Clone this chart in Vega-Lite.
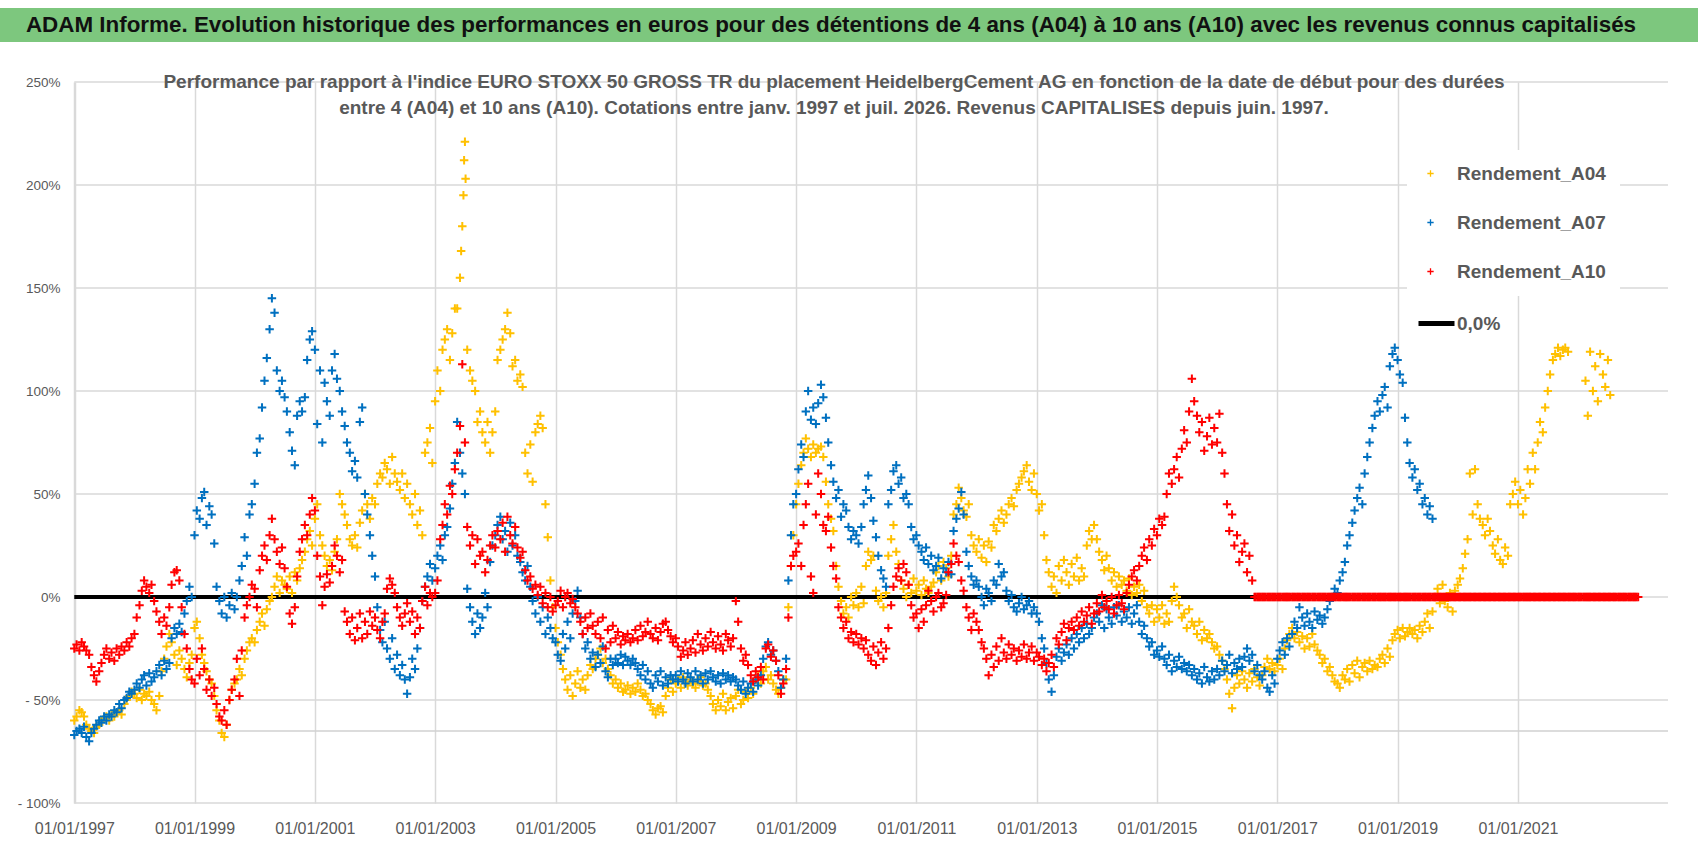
{
"$schema":"https://vega.github.io/schema/vega-lite/v6.json",
"background":"white",
"padding":{"left":0,"top":8,"right":0,"bottom":0},
"spacing":31,
"config":{"view":{"stroke":null}},
"vconcat":[
{"width":1698,"height":34,"view":{"fill":"#7dc77e","stroke":null},
 "data":{"values":[{"t":"ADAM Informe. Evolution historique des performances en euros pour des détentions de 4 ans (A04) à 10 ans (A10) avec les revenus connus capitalisés"}]},
 "mark":{"type":"text","font":"Liberation Sans, Arial, sans-serif","fontSize":22.4,"fontWeight":"bold","color":"#111111","dx":-18,"baseline":"middle"},
 "encoding":{"text":{"field":"t"}}},
{"width":1668,"height":721,
 "title":{"text":["Performance par rapport à l'indice EURO STOXX 50 GROSS TR  du placement HeidelbergCement AG en fonction de la date de début pour des durées","entre 4 (A04) et 10 ans (A10).  Cotations entre janv. 1997 et juil. 2026. Revenus CAPITALISES depuis juin. 1997."],"font":"Liberation Sans, Arial, sans-serif","fontSize":19,"fontWeight":"bold","color":"#595959","offset":-43,"lineHeight":26,"anchor":"middle"},
 "layer":[
 {"data":{"values":[{"g":-100},{"g":-50},{"g":0},{"g":50},{"g":100},{"g":150},{"g":200},{"g":250}]},"mark":{"type":"rule","stroke":"#d9d9d9","strokeWidth":1.5},
  "encoding":{"y":{"field":"g","type":"quantitative"},
   "x":{"datum":{"year":1997,"month":1,"date":1,"utc":true},"type":"temporal"},
   "x2":{"datum":{"year":2023,"month":7,"date":1,"utc":true}}}},
 {"data":{"values":[{}]},"mark":{"type":"rule","stroke":"#d0d0d0","strokeWidth":1.5},
  "encoding":{"y":{"datum":-65,"type":"quantitative"},
   "x":{"datum":{"year":1997,"month":1,"date":1,"utc":true},"type":"temporal"},
   "x2":{"datum":{"year":2023,"month":7,"date":1,"utc":true}}}},
 {"data":{"values":[{}]},"mark":{"type":"rule","strokeWidth":4},
  "encoding":{"y":{"datum":0,"type":"quantitative"},
   "x":{"datum":{"year":1997,"month":1,"date":1,"utc":true},"type":"temporal"},
   "x2":{"datum":{"year":2023,"month":1,"date":1,"utc":true}},
   "stroke":{"datum":"0,0%","type":"nominal","scale":{"range":["#000000"]},
     "legend":{"orient":"none","legendX":1402,"legendY":281,"title":null,"symbolType":"stroke","symbolSize":1296,"symbolStrokeWidth":5,"labelFont":"Liberation Sans, Arial, sans-serif","labelFontSize":19,"labelFontWeight":"bold","labelColor":"#595959","labelOffset":0,"labelLimit":300,"padding":14,"fillColor":"white"}}}},
 {"data":{"values":[
{"d":"1997-01-01","a":-60,"b":-67,"c":-25},{"d":"1997-01-15","a":-58,"b":-65,"c":-23},{"d":"1997-02-01","a":-55,"b":-64,"c":-26},{"d":"1997-02-15","a":-56,"b":-66,"c":-22},{"d":"1997-03-01","a":-58,"b":-63,"c":-24},{"d":"1997-03-15","a":-62,"b":-68,"c":-26},{"d":"1997-04-01","a":-64,"b":-70,"c":-28},{"d":"1997-04-15","a":-65,"b":-66,"c":-34},{"d":"1997-05-01","a":-66,"b":-64,"c":-38},{"d":"1997-05-15","a":-63,"b":-62,"c":-41},{"d":"1997-06-01","a":-62,"b":-60,"c":-36},{"d":"1997-06-15","a":-60,"b":-61,"c":-32},{"d":"1997-07-01","a":-59,"b":-58,"c":-28},{"d":"1997-07-15","a":-58,"b":-60,"c":-25},{"d":"1997-08-01","a":-60,"b":-57,"c":-30},{"d":"1997-08-15","a":-57,"b":-58,"c":-27},{"d":"1997-09-01","a":-58,"b":-55,"c":-31},{"d":"1997-09-15","a":-56,"b":-56,"c":-25},{"d":"1997-10-01","a":-55,"b":-52,"c":-28},{"d":"1997-10-15","a":-57,"b":-54,"c":-24},{"d":"1997-11-01","a":-52,"b":-50,"c":-26},{"d":"1997-11-15","a":-50,"b":-49,"c":-22},{"d":"1997-12-01","a":-48,"b":-46,"c":-24},{"d":"1997-12-15","a":-46,"b":-47,"c":-20},
{"d":"1998-01-01","a":-47,"b":-45,"c":-18},{"d":"1998-01-15","a":-49,"b":-42,"c":-10},{"d":"1998-02-01","a":-45,"b":-44,"c":-4},{"d":"1998-02-15","a":-50,"b":-40,"c":3},{"d":"1998-03-01","a":-47,"b":-38,"c":8},{"d":"1998-03-15","a":-48,"b":-43,"c":5},{"d":"1998-04-01","a":-46,"b":-37,"c":2},{"d":"1998-04-15","a":-50,"b":-41,"c":6},{"d":"1998-05-01","a":-52,"b":-39,"c":-2},{"d":"1998-05-15","a":-55,"b":-36,"c":-7},{"d":"1998-06-01","a":-48,"b":-33,"c":-12},{"d":"1998-06-15","a":-36,"b":-38,"c":-18},{"d":"1998-07-01","a":-30,"b":-31,"c":-10},{"d":"1998-07-15","a":-24,"b":-35,"c":-14},{"d":"1998-08-01","a":-18,"b":-32,"c":-5},{"d":"1998-08-15","a":-22,"b":-20,"c":6},{"d":"1998-09-01","a":-28,"b":-15,"c":12},{"d":"1998-09-15","a":-33,"b":-18,"c":13},{"d":"1998-10-01","a":-26,"b":-13,"c":8},{"d":"1998-10-15","a":-30,"b":-17,"c":-5},{"d":"1998-11-01","a":-35,"b":-8,"c":-18},{"d":"1998-11-15","a":-39,"b":-2,"c":-25},{"d":"1998-12-01","a":-32,"b":5,"c":-35},{"d":"1998-12-15","a":-28,"b":0,"c":-40},
{"d":"1999-01-01","a":-15,"b":30,"c":-42},{"d":"1999-01-15","a":-12,"b":42,"c":-30},{"d":"1999-02-01","a":-20,"b":38,"c":-38},{"d":"1999-02-15","a":-28,"b":48,"c":-25},{"d":"1999-03-01","a":-32,"b":51,"c":-35},{"d":"1999-03-15","a":-36,"b":35,"c":-45},{"d":"1999-04-01","a":-40,"b":44,"c":-40},{"d":"1999-04-15","a":-42,"b":40,"c":-48},{"d":"1999-05-01","a":-48,"b":26,"c":-44},{"d":"1999-05-15","a":-55,"b":5,"c":-52},{"d":"1999-06-01","a":-60,"b":-2,"c":-58},{"d":"1999-06-15","a":-66,"b":-8,"c":-60},{"d":"1999-07-01","a":-68,"b":0,"c":-55},{"d":"1999-07-15","a":-62,"b":-10,"c":-62},{"d":"1999-08-01","a":-50,"b":-4,"c":-50},{"d":"1999-08-15","a":-45,"b":2,"c":-45},{"d":"1999-09-01","a":-42,"b":-6,"c":-40},{"d":"1999-09-15","a":-40,"b":0,"c":-30},{"d":"1999-10-01","a":-35,"b":8,"c":-48},{"d":"1999-10-15","a":-38,"b":15,"c":-26},{"d":"1999-11-01","a":-30,"b":29,"c":-10},{"d":"1999-11-15","a":-26,"b":20,"c":-4},{"d":"1999-12-01","a":-22,"b":40,"c":0},{"d":"1999-12-15","a":-20,"b":45,"c":6},
{"d":"2000-01-01","a":-22,"b":55,"c":4},{"d":"2000-01-15","a":-16,"b":70,"c":-5},{"d":"2000-02-01","a":-12,"b":77,"c":13},{"d":"2000-02-15","a":-8,"b":92,"c":20},{"d":"2000-03-01","a":-14,"b":105,"c":25},{"d":"2000-03-15","a":-6,"b":116,"c":18},{"d":"2000-04-01","a":-2,"b":130,"c":30},{"d":"2000-04-15","a":0,"b":145,"c":38},{"d":"2000-05-01","a":5,"b":138,"c":28},{"d":"2000-05-15","a":10,"b":110,"c":22},{"d":"2000-06-01","a":2,"b":100,"c":16},{"d":"2000-06-15","a":8,"b":105,"c":24},{"d":"2000-07-01","a":6,"b":97,"c":14},{"d":"2000-07-15","a":4,"b":90,"c":5},{"d":"2000-08-01","a":10,"b":80,"c":-8},{"d":"2000-08-15","a":2,"b":71,"c":-13},{"d":"2000-09-01","a":12,"b":64,"c":-5},{"d":"2000-09-15","a":8,"b":88,"c":10},{"d":"2000-10-01","a":14,"b":95,"c":22},{"d":"2000-10-15","a":18,"b":90,"c":28},{"d":"2000-11-01","a":22,"b":97,"c":35},{"d":"2000-11-15","a":28,"b":115,"c":30},{"d":"2000-12-01","a":32,"b":125,"c":40},{"d":"2000-12-15","a":25,"b":129,"c":48},
{"d":"2001-01-01","a":38,"b":120,"c":42},{"d":"2001-01-15","a":45,"b":84,"c":20},{"d":"2001-02-01","a":30,"b":110,"c":10},{"d":"2001-02-15","a":25,"b":75,"c":-4},{"d":"2001-03-01","a":20,"b":104,"c":5},{"d":"2001-03-15","a":15,"b":95,"c":11},{"d":"2001-04-01","a":18,"b":88,"c":7},{"d":"2001-04-15","a":13,"b":110,"c":15},{"d":"2001-05-01","a":22,"b":118,"c":25},{"d":"2001-05-15","a":28,"b":106,"c":20},{"d":"2001-06-01","a":50,"b":100,"c":12},{"d":"2001-06-15","a":45,"b":90,"c":18},{"d":"2001-07-01","a":40,"b":83,"c":-7},{"d":"2001-07-15","a":35,"b":75,"c":-12},{"d":"2001-08-01","a":28,"b":70,"c":-18},{"d":"2001-08-15","a":25,"b":61,"c":-10},{"d":"2001-09-01","a":30,"b":66,"c":-21},{"d":"2001-09-15","a":24,"b":58,"c":-15},{"d":"2001-10-01","a":36,"b":85,"c":-8},{"d":"2001-10-15","a":42,"b":92,"c":-20},{"d":"2001-11-01","a":50,"b":50,"c":-12},{"d":"2001-11-15","a":45,"b":40,"c":-18},{"d":"2001-12-01","a":38,"b":30,"c":-7},{"d":"2001-12-15","a":48,"b":20,"c":-14},
{"d":"2002-01-01","a":45,"b":10,"c":-10},{"d":"2002-01-15","a":55,"b":-5,"c":-16},{"d":"2002-02-01","a":60,"b":-16,"c":-20},{"d":"2002-02-15","a":58,"b":-22,"c":-12},{"d":"2002-03-01","a":65,"b":-12,"c":-8},{"d":"2002-03-15","a":62,"b":-25,"c":4},{"d":"2002-04-01","a":55,"b":-30,"c":9},{"d":"2002-04-15","a":68,"b":-20,"c":6},{"d":"2002-05-01","a":60,"b":-35,"c":2},{"d":"2002-05-15","a":56,"b":-28,"c":-5},{"d":"2002-06-01","a":52,"b":-38,"c":-10},{"d":"2002-06-15","a":60,"b":-33,"c":-14},{"d":"2002-07-01","a":48,"b":-40,"c":-8},{"d":"2002-07-15","a":55,"b":-47,"c":-3},{"d":"2002-08-01","a":45,"b":-39,"c":-12},{"d":"2002-08-15","a":40,"b":-30,"c":-7},{"d":"2002-09-01","a":50,"b":-35,"c":-18},{"d":"2002-09-15","a":35,"b":-25,"c":-10},{"d":"2002-10-01","a":42,"b":-15,"c":-15},{"d":"2002-10-15","a":30,"b":-2,"c":-2},{"d":"2002-11-01","a":70,"b":5,"c":5},{"d":"2002-11-15","a":75,"b":10,"c":-4},{"d":"2002-12-01","a":82,"b":16,"c":2},{"d":"2002-12-15","a":65,"b":8,"c":0},
{"d":"2003-01-01","a":95,"b":14,"c":2},{"d":"2003-01-15","a":110,"b":20,"c":8},{"d":"2003-02-01","a":100,"b":25,"c":28},{"d":"2003-02-15","a":120,"b":18,"c":35},{"d":"2003-03-01","a":125,"b":30,"c":45},{"d":"2003-03-15","a":130,"b":34,"c":40},{"d":"2003-04-01","a":115,"b":43,"c":54},{"d":"2003-04-15","a":128,"b":55,"c":50},{"d":"2003-05-01","a":140,"b":65,"c":62},{"d":"2003-05-15","a":140,"b":85,"c":70},{"d":"2003-06-01","a":155,"b":70,"c":83},{"d":"2003-06-08","a":168},{"d":"2003-06-15","a":180,"b":60,"c":113},{"d":"2003-06-22","a":195},{"d":"2003-06-26","a":212},{"d":"2003-07-01","a":221,"b":50,"c":75},{"d":"2003-07-05","a":203},{"d":"2003-07-15","a":120,"b":4,"c":34},{"d":"2003-08-01","a":110,"b":-5,"c":25},{"d":"2003-08-15","a":105,"b":-12,"c":30},{"d":"2003-09-01","a":100,"b":-18,"c":16},{"d":"2003-09-15","a":85,"b":-8,"c":28},{"d":"2003-10-01","a":90,"b":-15,"c":20},{"d":"2003-10-15","a":80,"b":-10,"c":22},{"d":"2003-11-01","a":75,"b":2,"c":12},{"d":"2003-11-15","a":85,"b":-5,"c":18},{"d":"2003-12-01","a":70,"b":17,"c":25},{"d":"2003-12-15","a":80,"b":25,"c":30},
{"d":"2004-01-01","a":90,"b":30,"c":24},{"d":"2004-01-15","a":115,"b":35,"c":32},{"d":"2004-02-01","a":120,"b":39,"c":28},{"d":"2004-02-15","a":125,"b":28,"c":36},{"d":"2004-03-01","a":130,"b":32,"c":22},{"d":"2004-03-15","a":138,"b":22,"c":39},{"d":"2004-04-01","a":128,"b":36,"c":30},{"d":"2004-04-15","a":112,"b":25,"c":26},{"d":"2004-05-01","a":115,"b":30,"c":34},{"d":"2004-05-15","a":105,"b":20,"c":24},{"d":"2004-06-01","a":108,"b":17,"c":19},{"d":"2004-06-15","a":102,"b":12,"c":22},{"d":"2004-07-01","a":70,"b":8,"c":13},{"d":"2004-07-15","a":60,"b":15,"c":8},{"d":"2004-08-01","a":74,"b":5,"c":10},{"d":"2004-08-15","a":56,"b":-2,"c":4},{"d":"2004-09-01","a":80,"b":-8,"c":6},{"d":"2004-09-15","a":84,"b":0,"c":1},{"d":"2004-10-01","a":88,"b":-12,"c":5},{"d":"2004-10-15","a":82,"b":-5,"c":-3},{"d":"2004-11-01","a":45,"b":-18,"c":2},{"d":"2004-11-15","a":29,"b":-10,"c":-5},{"d":"2004-12-01","a":8,"b":-15,"c":0},{"d":"2004-12-15","a":-5,"b":-20,"c":-7},
{"d":"2005-01-01","a":-15,"b":-22,"c":-4},{"d":"2005-01-15","a":-22,"b":-28,"c":-2},{"d":"2005-02-01","a":-28,"b":-31,"c":3},{"d":"2005-02-15","a":-35,"b":-18,"c":-5},{"d":"2005-03-01","a":-40,"b":-25,"c":0},{"d":"2005-03-15","a":-45,"b":-12,"c":2},{"d":"2005-04-01","a":-38,"b":-20,"c":-3},{"d":"2005-04-15","a":-48,"b":-8,"c":-1},{"d":"2005-05-01","a":-42,"b":-2,"c":-5},{"d":"2005-05-15","a":-36,"b":3,"c":-8},{"d":"2005-06-01","a":-44,"b":-10,"c":-12},{"d":"2005-06-15","a":-40,"b":-18,"c":-18},{"d":"2005-07-01","a":-45,"b":-25,"c":-10},{"d":"2005-07-15","a":-38,"b":-22,"c":-15},{"d":"2005-08-01","a":-33,"b":-30,"c":-8},{"d":"2005-08-15","a":-35,"b":-27,"c":-14},{"d":"2005-09-01","a":-30,"b":-34,"c":-18},{"d":"2005-09-15","a":-28,"b":-28,"c":-12},{"d":"2005-10-01","a":-25,"b":-32,"c":-20},{"d":"2005-10-15","a":-32,"b":-24,"c":-10},{"d":"2005-11-01","a":-30,"b":-36,"c":-25},{"d":"2005-11-15","a":-35,"b":-39,"c":-16},{"d":"2005-12-01","a":-38,"b":-30,"c":-22},{"d":"2005-12-15","a":-42,"b":-33,"c":-14},
{"d":"2006-01-01","a":-40,"b":-30,"c":-20},{"d":"2006-01-15","a":-44,"b":-32,"c":-17},{"d":"2006-02-01","a":-42,"b":-28,"c":-23},{"d":"2006-02-15","a":-46,"b":-33,"c":-19},{"d":"2006-03-01","a":-45,"b":-29,"c":-21},{"d":"2006-03-15","a":-43,"b":-31,"c":-18},{"d":"2006-04-01","a":-47,"b":-33,"c":-22},{"d":"2006-04-15","a":-44,"b":-30,"c":-20},{"d":"2006-05-01","a":-46,"b":-32,"c":-16},{"d":"2006-05-15","a":-42,"b":-35,"c":-21},{"d":"2006-06-01","a":-45,"b":-38,"c":-14},{"d":"2006-06-15","a":-48,"b":-33,"c":-19},{"d":"2006-07-01","a":-47,"b":-40,"c":-17},{"d":"2006-07-15","a":-50,"b":-36,"c":-12},{"d":"2006-08-01","a":-52,"b":-42,"c":-18},{"d":"2006-08-15","a":-55,"b":-44,"c":-20},{"d":"2006-09-01","a":-57,"b":-38,"c":-15},{"d":"2006-09-15","a":-54,"b":-41,"c":-21},{"d":"2006-10-01","a":-53,"b":-36,"c":-17},{"d":"2006-10-15","a":-56,"b":-43,"c":-13},{"d":"2006-11-01","a":-48,"b":-39,"c":-12},{"d":"2006-11-15","a":-44,"b":-42,"c":-16},{"d":"2006-12-01","a":-40,"b":-38,"c":-19},{"d":"2006-12-15","a":-46,"b":-40,"c":-22},
{"d":"2007-01-01","a":-42,"b":-38,"c":-20},{"d":"2007-01-15","a":-40,"b":-41,"c":-24},{"d":"2007-02-01","a":-44,"b":-36,"c":-29},{"d":"2007-02-15","a":-39,"b":-40,"c":-26},{"d":"2007-03-01","a":-41,"b":-42,"c":-22},{"d":"2007-03-15","a":-43,"b":-37,"c":-28},{"d":"2007-04-01","a":-40,"b":-39,"c":-25},{"d":"2007-04-15","a":-42,"b":-41,"c":-21},{"d":"2007-05-01","a":-44,"b":-36,"c":-27},{"d":"2007-05-15","a":-41,"b":-40,"c":-18},{"d":"2007-06-01","a":-39,"b":-38,"c":-23},{"d":"2007-06-15","a":-43,"b":-42,"c":-26},{"d":"2007-07-01","a":-42,"b":-37,"c":-20},{"d":"2007-07-15","a":-45,"b":-40,"c":-24},{"d":"2007-08-01","a":-48,"b":-36,"c":-17},{"d":"2007-08-15","a":-52,"b":-39,"c":-22},{"d":"2007-09-01","a":-55,"b":-41,"c":-25},{"d":"2007-09-15","a":-50,"b":-38,"c":-19},{"d":"2007-10-01","a":-53,"b":-42,"c":-23},{"d":"2007-10-15","a":-47,"b":-37,"c":-26},{"d":"2007-11-01","a":-55,"b":-40,"c":-18},{"d":"2007-11-15","a":-51,"b":-38,"c":-21},{"d":"2007-12-01","a":-49,"b":-41,"c":-24},{"d":"2007-12-15","a":-54,"b":-39,"c":-20},
{"d":"2008-01-01","a":-48,"b":-40,"c":-2},{"d":"2008-01-15","a":-45,"b":-43,"c":-12},{"d":"2008-02-01","a":-52,"b":-45,"c":-25},{"d":"2008-02-15","a":-50,"b":-41,"c":-31},{"d":"2008-03-01","a":-46,"b":-47,"c":-28},{"d":"2008-03-15","a":-49,"b":-44,"c":-33},{"d":"2008-04-01","a":-44,"b":-42,"c":-38},{"d":"2008-04-15","a":-47,"b":-46,"c":-41},{"d":"2008-05-01","a":-40,"b":-40,"c":-36},{"d":"2008-05-15","a":-38,"b":-43,"c":-39},{"d":"2008-06-01","a":-42,"b":-38,"c":-34},{"d":"2008-06-15","a":-36,"b":-30,"c":-40},{"d":"2008-07-01","a":-34,"b":-24,"c":-25},{"d":"2008-07-15","a":-40,"b":-22,"c":-23},{"d":"2008-08-01","a":-38,"b":-28,"c":-29},{"d":"2008-08-15","a":-42,"b":-26,"c":-26},{"d":"2008-09-01","a":-45,"b":-31,"c":-31},{"d":"2008-09-15","a":-47,"b":-36,"c":-38},{"d":"2008-10-01","a":-44,"b":-44,"c":-47},{"d":"2008-10-15","a":-40,"b":-40,"c":-42},{"d":"2008-11-01","a":-40,"b":-30,"c":-35},{"d":"2008-11-15","a":-5,"b":8,"c":-10},{"d":"2008-12-01","a":15,"b":30,"c":15},{"d":"2008-12-15","a":30,"b":45,"c":20},
{"d":"2009-01-01","a":45,"b":50,"c":22},{"d":"2009-01-15","a":55,"b":62,"c":26},{"d":"2009-02-01","a":64,"b":74,"c":15},{"d":"2009-02-15","a":70,"b":68,"c":35},{"d":"2009-03-01","a":77,"b":90,"c":45},{"d":"2009-03-15","a":72,"b":100,"c":55},{"d":"2009-04-01","a":68,"b":86,"c":10},{"d":"2009-04-15","a":74,"b":92,"c":2},{"d":"2009-05-01","a":70,"b":84,"c":40},{"d":"2009-05-15","a":72,"b":94,"c":60},{"d":"2009-06-01","a":73,"b":103,"c":50},{"d":"2009-06-15","a":68,"b":97,"c":35},{"d":"2009-07-01","a":56,"b":87,"c":32},{"d":"2009-07-15","a":45,"b":75,"c":39},{"d":"2009-08-01","a":38,"b":64,"c":24},{"d":"2009-08-15","a":32,"b":56,"c":15},{"d":"2009-09-01","a":15,"b":48,"c":9},{"d":"2009-09-15","a":5,"b":52,"c":-5},{"d":"2009-10-01","a":-2,"b":39,"c":-10},{"d":"2009-10-15","a":-8,"b":45,"c":-15},{"d":"2009-11-01","a":-5,"b":42,"c":-12},{"d":"2009-11-15","a":-10,"b":34,"c":-20},{"d":"2009-12-01","a":0,"b":28,"c":-17},{"d":"2009-12-15","a":-4,"b":32,"c":-22},
{"d":"2010-01-01","a":2,"b":30,"c":-18},{"d":"2010-01-15","a":-5,"b":26,"c":-23},{"d":"2010-02-01","a":5,"b":34,"c":-20},{"d":"2010-02-15","a":-3,"b":45,"c":-25},{"d":"2010-03-01","a":15,"b":52,"c":-21},{"d":"2010-03-15","a":22,"b":59,"c":-28},{"d":"2010-04-01","a":18,"b":48,"c":-31},{"d":"2010-04-15","a":20,"b":37,"c":-24},{"d":"2010-05-01","a":3,"b":29,"c":-33},{"d":"2010-05-15","a":-2,"b":20,"c":-27},{"d":"2010-06-01","a":0,"b":13,"c":-22},{"d":"2010-06-15","a":-5,"b":9,"c":-30},{"d":"2010-07-01","a":2,"b":5,"c":-25},{"d":"2010-07-15","a":20,"b":45,"c":-15},{"d":"2010-08-01","a":28,"b":52,"c":-4},{"d":"2010-08-15","a":35,"b":61,"c":5},{"d":"2010-09-01","a":22,"b":64,"c":10},{"d":"2010-09-15","a":16,"b":55,"c":14},{"d":"2010-10-01","a":8,"b":58,"c":8},{"d":"2010-10-15","a":4,"b":48,"c":16},{"d":"2010-11-01","a":0,"b":50,"c":12},{"d":"2010-11-15","a":6,"b":45,"c":6},{"d":"2010-12-01","a":2,"b":34,"c":-4},{"d":"2010-12-15","a":9,"b":28,"c":-10},
{"d":"2011-01-01","a":3,"b":30,"c":-8},{"d":"2011-01-15","a":6,"b":25,"c":-15},{"d":"2011-02-01","a":1,"b":22,"c":-6},{"d":"2011-02-15","a":8,"b":18,"c":-12},{"d":"2011-03-01","a":4,"b":24,"c":-4},{"d":"2011-03-15","a":2,"b":16,"c":3},{"d":"2011-04-01","a":5,"b":20,"c":-2},{"d":"2011-04-15","a":7,"b":13,"c":-7},{"d":"2011-05-01","a":12,"b":15,"c":0},{"d":"2011-05-15","a":15,"b":19,"c":2},{"d":"2011-06-01","a":8,"b":9,"c":-5},{"d":"2011-06-15","a":17,"b":14,"c":-3},{"d":"2011-07-01","a":14,"b":12,"c":1},{"d":"2011-07-15","a":10,"b":17,"c":12},{"d":"2011-08-01","a":20,"b":11,"c":16},{"d":"2011-08-15","a":40,"b":32,"c":26},{"d":"2011-09-01","a":45,"b":38,"c":20},{"d":"2011-09-15","a":53,"b":43,"c":17},{"d":"2011-10-01","a":48,"b":51,"c":8},{"d":"2011-10-15","a":42,"b":40,"c":3},{"d":"2011-11-01","a":39,"b":22,"c":-5},{"d":"2011-11-15","a":45,"b":15,"c":-10},{"d":"2011-12-01","a":30,"b":10,"c":-16},{"d":"2011-12-15","a":25,"b":6,"c":-8},
{"d":"2012-01-01","a":22,"b":8,"c":-12},{"d":"2012-01-15","a":28,"b":5,"c":-16},{"d":"2012-02-01","a":19,"b":0,"c":-22},{"d":"2012-02-15","a":25,"b":-4,"c":-25},{"d":"2012-03-01","a":17,"b":4,"c":-30},{"d":"2012-03-15","a":27,"b":2,"c":-38},{"d":"2012-04-01","a":24,"b":-2,"c":-28},{"d":"2012-04-15","a":35,"b":8,"c":-34},{"d":"2012-05-01","a":32,"b":6,"c":-24},{"d":"2012-05-15","a":38,"b":16,"c":-31},{"d":"2012-06-01","a":42,"b":10,"c":-20},{"d":"2012-06-15","a":36,"b":12,"c":-27},{"d":"2012-07-01","a":40,"b":3,"c":-30},{"d":"2012-07-15","a":45,"b":-2,"c":-23},{"d":"2012-08-01","a":48,"b":1,"c":-28},{"d":"2012-08-15","a":44,"b":-5,"c":-25},{"d":"2012-09-01","a":52,"b":-7,"c":-31},{"d":"2012-09-15","a":55,"b":-3,"c":-26},{"d":"2012-10-01","a":58,"b":0,"c":-29},{"d":"2012-10-15","a":61,"b":-6,"c":-23},{"d":"2012-11-01","a":64,"b":-4,"c":-30},{"d":"2012-11-15","a":56,"b":-2,"c":-27},{"d":"2012-12-01","a":52,"b":-8,"c":-24},{"d":"2012-12-15","a":60,"b":-5,"c":-31},
{"d":"2013-01-01","a":50,"b":-8,"c":-27},{"d":"2013-01-15","a":42,"b":-12,"c":-29},{"d":"2013-02-01","a":45,"b":-20,"c":-33},{"d":"2013-02-15","a":30,"b":-25,"c":-30},{"d":"2013-03-01","a":18,"b":-32,"c":-36},{"d":"2013-03-15","a":12,"b":-40,"c":-32},{"d":"2013-04-01","a":5,"b":-46,"c":-28},{"d":"2013-04-15","a":10,"b":-38,"c":-34},{"d":"2013-05-01","a":2,"b":-29,"c":-20},{"d":"2013-05-15","a":15,"b":-25,"c":-23},{"d":"2013-06-01","a":8,"b":-31,"c":-17},{"d":"2013-06-15","a":18,"b":-27,"c":-13},{"d":"2013-07-01","a":12,"b":-23,"c":-21},{"d":"2013-07-15","a":6,"b":-28,"c":-15},{"d":"2013-08-01","a":16,"b":-20,"c":-12},{"d":"2013-08-15","a":10,"b":-25,"c":-16},{"d":"2013-09-01","a":19,"b":-18,"c":-10},{"d":"2013-09-15","a":8,"b":-22,"c":-14},{"d":"2013-10-01","a":14,"b":-15,"c":-7},{"d":"2013-10-15","a":10,"b":-20,"c":-12},{"d":"2013-11-01","a":25,"b":-13,"c":-9},{"d":"2013-11-15","a":32,"b":-18,"c":-5},{"d":"2013-12-01","a":28,"b":-15,"c":-13},{"d":"2013-12-15","a":35,"b":-10,"c":-8},
{"d":"2014-01-01","a":28,"b":-8,"c":-3},{"d":"2014-01-15","a":22,"b":-12,"c":-7},{"d":"2014-02-01","a":18,"b":-4,"c":1},{"d":"2014-02-15","a":13,"b":-15,"c":-5},{"d":"2014-03-01","a":20,"b":-6,"c":-2},{"d":"2014-03-15","a":14,"b":-10,"c":-6},{"d":"2014-04-01","a":8,"b":-13,"c":0},{"d":"2014-04-15","a":12,"b":-5,"c":-8},{"d":"2014-05-01","a":5,"b":-9,"c":-4},{"d":"2014-05-15","a":10,"b":-4,"c":1},{"d":"2014-06-01","a":6,"b":-12,"c":-3},{"d":"2014-06-15","a":8,"b":-7,"c":-6},{"d":"2014-07-01","a":3,"b":-10,"c":2},{"d":"2014-07-15","a":9,"b":-5,"c":6},{"d":"2014-08-01","a":1,"b":-13,"c":10},{"d":"2014-08-15","a":5,"b":-8,"c":13},{"d":"2014-09-01","a":2,"b":-4,"c":8},{"d":"2014-09-15","a":6,"b":-12,"c":15},{"d":"2014-10-01","a":-2,"b":-18,"c":20},{"d":"2014-10-15","a":3,"b":-14,"c":24},{"d":"2014-11-01","a":-5,"b":-20,"c":18},{"d":"2014-11-15","a":-8,"b":-24,"c":28},{"d":"2014-12-01","a":-4,"b":-22,"c":25},{"d":"2014-12-15","a":-12,"b":-28,"c":33},
{"d":"2015-01-01","a":-6,"b":-26,"c":30},{"d":"2015-01-15","a":-10,"b":-29,"c":38},{"d":"2015-02-01","a":-4,"b":-24,"c":35},{"d":"2015-02-15","a":-13,"b":-30,"c":39},{"d":"2015-03-01","a":-8,"b":-33,"c":50},{"d":"2015-03-15","a":-12,"b":-28,"c":60},{"d":"2015-04-01","a":-2,"b":-36,"c":55},{"d":"2015-04-15","a":5,"b":-31,"c":62},{"d":"2015-05-01","a":0,"b":-34,"c":68},{"d":"2015-05-15","a":-4,"b":-29,"c":58},{"d":"2015-06-01","a":-10,"b":-35,"c":72},{"d":"2015-06-15","a":-8,"b":-32,"c":81},{"d":"2015-07-01","a":-15,"b":-36,"c":75},{"d":"2015-07-15","a":-6,"b":-33,"c":90},{"d":"2015-08-01","a":-12,"b":-38,"c":106},{"d":"2015-08-15","a":-14,"b":-35,"c":95},{"d":"2015-09-01","a":-18,"b":-40,"c":88},{"d":"2015-09-15","a":-12,"b":-37,"c":80},{"d":"2015-10-01","a":-21,"b":-42,"c":85},{"d":"2015-10-15","a":-16,"b":-34,"c":71},{"d":"2015-11-01","a":-20,"b":-39,"c":78},{"d":"2015-11-15","a":-18,"b":-41,"c":87},{"d":"2015-12-01","a":-22,"b":-36,"c":74},{"d":"2015-12-15","a":-25,"b":-40,"c":82},
{"d":"2016-01-01","a":-24,"b":-35,"c":75},{"d":"2016-01-15","a":-28,"b":-38,"c":89},{"d":"2016-02-01","a":-31,"b":-31,"c":70},{"d":"2016-02-15","a":-35,"b":-36,"c":60},{"d":"2016-03-01","a":-40,"b":-33,"c":45},{"d":"2016-03-15","a":-47,"b":-28,"c":32},{"d":"2016-04-01","a":-54,"b":-37,"c":40},{"d":"2016-04-15","a":-44,"b":-32,"c":25},{"d":"2016-05-01","a":-38,"b":-35,"c":30},{"d":"2016-05-15","a":-42,"b":-30,"c":17},{"d":"2016-06-01","a":-36,"b":-34,"c":22},{"d":"2016-06-15","a":-40,"b":-29,"c":26},{"d":"2016-07-01","a":-44,"b":-25,"c":12},{"d":"2016-07-15","a":-37,"b":-31,"c":20},{"d":"2016-08-01","a":-41,"b":-28,"c":8},{"d":"2016-08-15","a":-35,"b":-36,"c":0},{"d":"2016-09-01","a":-39,"b":-33,"c":0},{"d":"2016-09-15","a":-43,"b":-38,"c":0},{"d":"2016-10-01","a":-38,"b":-40,"c":0},{"d":"2016-10-15","a":-34,"b":-36,"c":0},{"d":"2016-11-01","a":-30,"b":-44,"c":0},{"d":"2016-11-15","a":-35,"b":-46,"c":0},{"d":"2016-12-01","a":-32,"b":-38,"c":0},{"d":"2016-12-15","a":-36,"b":-42,"c":0},
{"d":"2017-01-01","a":-33,"b":-30,"c":0},{"d":"2017-01-15","a":-30,"b":-26,"c":0},{"d":"2017-02-01","a":-35,"b":-22,"c":0},{"d":"2017-02-15","a":-25,"b":-28,"c":0},{"d":"2017-03-01","a":-21,"b":-20,"c":0},{"d":"2017-03-15","a":-18,"b":-24,"c":0},{"d":"2017-04-01","a":-15,"b":-18,"c":0},{"d":"2017-04-15","a":-20,"b":-12,"c":0},{"d":"2017-05-01","a":-17,"b":-15,"c":0},{"d":"2017-05-15","a":-22,"b":-5,"c":0},{"d":"2017-06-01","a":-19,"b":-10,"c":0},{"d":"2017-06-15","a":-25,"b":-14,"c":0},{"d":"2017-07-01","a":-20,"b":-8,"c":0},{"d":"2017-07-15","a":-24,"b":-12,"c":0},{"d":"2017-08-01","a":-18,"b":-15,"c":0},{"d":"2017-08-15","a":-23,"b":-7,"c":0},{"d":"2017-09-01","a":-26,"b":-11,"c":0},{"d":"2017-09-15","a":-28,"b":-9,"c":0},{"d":"2017-10-01","a":-32,"b":-13,"c":0},{"d":"2017-10-15","a":-30,"b":-10,"c":0},{"d":"2017-11-01","a":-36,"b":-6,"c":0},{"d":"2017-11-15","a":-34,"b":-2,"c":0},{"d":"2017-12-01","a":-38,"b":0,"c":0},{"d":"2017-12-15","a":-41,"b":4,"c":0},
{"d":"2018-01-01","a":-42,"b":2,"c":0},{"d":"2018-01-15","a":-44,"b":8,"c":0},{"d":"2018-02-01","a":-38,"b":12,"c":0},{"d":"2018-02-15","a":-40,"b":17,"c":0},{"d":"2018-03-01","a":-35,"b":25,"c":0},{"d":"2018-03-15","a":-41,"b":30,"c":0},{"d":"2018-04-01","a":-33,"b":36,"c":0},{"d":"2018-04-15","a":-37,"b":42,"c":0},{"d":"2018-05-01","a":-31,"b":48,"c":0},{"d":"2018-05-15","a":-39,"b":53,"c":0},{"d":"2018-06-01","a":-34,"b":45,"c":0},{"d":"2018-06-15","a":-32,"b":60,"c":0},{"d":"2018-07-01","a":-36,"b":68,"c":0},{"d":"2018-07-15","a":-31,"b":75,"c":0},{"d":"2018-08-01","a":-35,"b":82,"c":0},{"d":"2018-08-15","a":-33,"b":88,"c":0},{"d":"2018-09-01","a":-34,"b":95,"c":0},{"d":"2018-09-15","a":-30,"b":90,"c":0},{"d":"2018-10-01","a":-28,"b":98,"c":0},{"d":"2018-10-15","a":-32,"b":102,"c":0},{"d":"2018-11-01","a":-25,"b":92,"c":0},{"d":"2018-11-15","a":-29,"b":112,"c":0},{"d":"2018-12-01","a":-21,"b":118,"c":0},{"d":"2018-12-15","a":-18,"b":121,"c":0},
{"d":"2019-01-01","a":-16,"b":115,"c":0},{"d":"2019-01-15","a":-20,"b":108,"c":0},{"d":"2019-02-01","a":-15,"b":104,"c":0},{"d":"2019-02-15","a":-19,"b":87,"c":0},{"d":"2019-03-01","a":-17,"b":75,"c":0},{"d":"2019-03-15","a":-15,"b":65,"c":0},{"d":"2019-04-01","a":-18,"b":58,"c":0},{"d":"2019-04-15","a":-16,"b":62,"c":0},{"d":"2019-05-01","a":-20,"b":52,"c":0},{"d":"2019-05-15","a":-14,"b":55,"c":0},{"d":"2019-06-01","a":-17,"b":45,"c":0},{"d":"2019-06-15","a":-12,"b":48,"c":0},{"d":"2019-07-01","a":-8,"b":40,"c":0},{"d":"2019-07-15","a":-15,"b":44,"c":0},{"d":"2019-08-01","a":-7,"b":38,"c":0},{"d":"2019-08-15","a":0,"c":0},{"d":"2019-09-01","a":4,"c":0},{"d":"2019-09-15","a":-3,"c":0},{"d":"2019-10-01","a":6,"c":0},{"d":"2019-10-15","a":-2,"c":0},{"d":"2019-11-01","a":-5,"c":0},{"d":"2019-11-15","a":2,"c":0},{"d":"2019-12-01","a":-7,"c":0},{"d":"2019-12-15","a":3,"c":0},
{"d":"2020-01-01","a":6,"c":0},{"d":"2020-01-15","a":9,"c":0},{"d":"2020-02-01","a":14,"c":0},{"d":"2020-02-15","a":21,"c":0},{"d":"2020-03-01","a":28,"c":0},{"d":"2020-03-15","a":60,"c":0},{"d":"2020-04-01","a":40,"c":0},{"d":"2020-04-15","a":62,"c":0},{"d":"2020-05-01","a":45,"c":0},{"d":"2020-05-15","a":38,"c":0},{"d":"2020-06-01","a":35,"c":0},{"d":"2020-06-15","a":30,"c":0},{"d":"2020-07-01","a":38,"c":0},{"d":"2020-07-15","a":32,"c":0},{"d":"2020-08-01","a":25,"c":0},{"d":"2020-08-15","a":21,"c":0},{"d":"2020-09-01","a":28,"c":0},{"d":"2020-09-15","a":18,"c":0},{"d":"2020-10-01","a":16,"c":0},{"d":"2020-10-15","a":24,"c":0},{"d":"2020-11-01","a":20,"c":0},{"d":"2020-11-15","a":45,"c":0},{"d":"2020-12-01","a":50,"c":0},{"d":"2020-12-15","a":56,"c":0},
{"d":"2021-01-01","a":45,"c":0},{"d":"2021-01-15","a":52,"c":0},{"d":"2021-02-01","a":40,"c":0},{"d":"2021-02-15","a":48,"c":0},{"d":"2021-03-01","a":62,"c":0},{"d":"2021-03-15","a":55,"c":0},{"d":"2021-04-01","a":70,"c":0},{"d":"2021-04-15","a":62,"c":0},{"d":"2021-05-01","a":75,"c":0},{"d":"2021-05-15","a":85,"c":0},{"d":"2021-06-01","a":80,"c":0},{"d":"2021-06-15","a":92,"c":0},{"d":"2021-07-01","a":100,"c":0},{"d":"2021-07-15","a":108,"c":0},{"d":"2021-08-01","a":115,"c":0},{"d":"2021-08-15","a":118,"c":0},{"d":"2021-09-01","a":121,"c":0},{"d":"2021-09-15","a":117,"c":0},{"d":"2021-10-01","a":120,"c":0},{"d":"2021-10-15","a":121,"c":0},{"d":"2021-11-01","a":119,"c":0},{"d":"2021-11-15","c":0},{"d":"2021-12-01","c":0},{"d":"2021-12-15","c":0},
{"d":"2022-01-01","c":0},{"d":"2022-01-15","c":0},{"d":"2022-02-01","c":0},{"d":"2022-02-15","a":105,"c":0},{"d":"2022-03-01","a":88,"c":0},{"d":"2022-03-15","a":119,"c":0},{"d":"2022-04-01","a":100,"c":0},{"d":"2022-04-15","a":112,"c":0},{"d":"2022-05-01","a":95,"c":0},{"d":"2022-05-15","a":118,"c":0},{"d":"2022-06-01","a":108,"c":0},{"d":"2022-06-15","a":102,"c":0},{"d":"2022-07-01","a":115,"c":0},{"d":"2022-07-15","a":98,"c":0},{"d":"2022-08-01","c":0},{"d":"2022-08-15","c":0},{"d":"2022-09-01","c":0},{"d":"2022-09-15","c":0},{"d":"2022-10-01","c":0},{"d":"2022-10-15","c":0},{"d":"2022-11-01","c":0},{"d":"2022-11-15","c":0},{"d":"2022-12-01","c":0},{"d":"2022-12-15","c":0},
{"d":"2023-01-01","c":0},
{"d":"2016-08-22","c":0},{"d":"2016-09-08","c":0},{"d":"2016-09-22","c":0},{"d":"2016-10-08","c":0},{"d":"2016-10-22","c":0},{"d":"2016-11-08","c":0},{"d":"2016-11-22","c":0},{"d":"2016-12-08","c":0},{"d":"2016-12-22","c":0},
{"d":"2017-01-08","c":0},{"d":"2017-01-22","c":0},{"d":"2017-02-08","c":0},{"d":"2017-02-22","c":0},{"d":"2017-03-08","c":0},{"d":"2017-03-22","c":0},{"d":"2017-04-08","c":0},{"d":"2017-04-22","c":0},{"d":"2017-05-08","c":0},{"d":"2017-05-22","c":0},{"d":"2017-06-08","c":0},{"d":"2017-06-22","c":0},{"d":"2017-07-08","c":0},{"d":"2017-07-22","c":0},{"d":"2017-08-08","c":0},{"d":"2017-08-22","c":0},{"d":"2017-09-08","c":0},{"d":"2017-09-22","c":0},{"d":"2017-10-08","c":0},{"d":"2017-10-22","c":0},{"d":"2017-11-08","c":0},{"d":"2017-11-22","c":0},{"d":"2017-12-08","c":0},{"d":"2017-12-22","c":0},
{"d":"2018-01-08","c":0},{"d":"2018-01-22","c":0},{"d":"2018-02-08","c":0},{"d":"2018-02-22","c":0},{"d":"2018-03-08","c":0},{"d":"2018-03-22","c":0},{"d":"2018-04-08","c":0},{"d":"2018-04-22","c":0},{"d":"2018-05-08","c":0},{"d":"2018-05-22","c":0},{"d":"2018-06-08","c":0},{"d":"2018-06-22","c":0},{"d":"2018-07-08","c":0},{"d":"2018-07-22","c":0},{"d":"2018-08-08","c":0},{"d":"2018-08-22","c":0},{"d":"2018-09-08","c":0},{"d":"2018-09-22","c":0},{"d":"2018-10-08","c":0},{"d":"2018-10-22","c":0},{"d":"2018-11-08","c":0},{"d":"2018-11-22","c":0},{"d":"2018-12-08","c":0},{"d":"2018-12-22","c":0},
{"d":"2019-01-08","c":0},{"d":"2019-01-22","c":0},{"d":"2019-02-08","c":0},{"d":"2019-02-22","c":0},{"d":"2019-03-08","c":0},{"d":"2019-03-22","c":0},{"d":"2019-04-08","c":0},{"d":"2019-04-22","c":0},{"d":"2019-05-08","c":0},{"d":"2019-05-22","c":0},{"d":"2019-06-08","c":0},{"d":"2019-06-22","c":0},{"d":"2019-07-08","c":0},{"d":"2019-07-22","c":0},{"d":"2019-08-08","c":0},{"d":"2019-08-22","c":0},{"d":"2019-09-08","c":0},{"d":"2019-09-22","c":0},{"d":"2019-10-08","c":0},{"d":"2019-10-22","c":0},{"d":"2019-11-08","c":0},{"d":"2019-11-22","c":0},{"d":"2019-12-08","c":0},{"d":"2019-12-22","c":0},
{"d":"2020-01-08","c":0},{"d":"2020-01-22","c":0},{"d":"2020-02-08","c":0},{"d":"2020-02-22","c":0},{"d":"2020-03-08","c":0},{"d":"2020-03-22","c":0},{"d":"2020-04-08","c":0},{"d":"2020-04-22","c":0},{"d":"2020-05-08","c":0},{"d":"2020-05-22","c":0},{"d":"2020-06-08","c":0},{"d":"2020-06-22","c":0},{"d":"2020-07-08","c":0},{"d":"2020-07-22","c":0},{"d":"2020-08-08","c":0},{"d":"2020-08-22","c":0},{"d":"2020-09-08","c":0},{"d":"2020-09-22","c":0},{"d":"2020-10-08","c":0},{"d":"2020-10-22","c":0},{"d":"2020-11-08","c":0},{"d":"2020-11-22","c":0},{"d":"2020-12-08","c":0},{"d":"2020-12-22","c":0},
{"d":"2021-01-08","c":0},{"d":"2021-01-22","c":0},{"d":"2021-02-08","c":0},{"d":"2021-02-22","c":0},{"d":"2021-03-08","c":0},{"d":"2021-03-22","c":0},{"d":"2021-04-08","c":0},{"d":"2021-04-22","c":0},{"d":"2021-05-08","c":0},{"d":"2021-05-22","c":0},{"d":"2021-06-08","c":0},{"d":"2021-06-22","c":0},{"d":"2021-07-08","c":0},{"d":"2021-07-22","c":0},{"d":"2021-08-08","c":0},{"d":"2021-08-22","c":0},{"d":"2021-09-08","c":0},{"d":"2021-09-22","c":0},{"d":"2021-10-08","c":0},{"d":"2021-10-22","c":0},{"d":"2021-11-08","c":0},{"d":"2021-11-22","c":0},{"d":"2021-12-08","c":0},{"d":"2021-12-22","c":0},
{"d":"2022-01-08","c":0},{"d":"2022-01-22","c":0},{"d":"2022-02-08","c":0},{"d":"2022-02-22","c":0},{"d":"2022-03-08","c":0},{"d":"2022-03-22","c":0},{"d":"2022-04-08","c":0},{"d":"2022-04-22","c":0},{"d":"2022-05-08","c":0},{"d":"2022-05-22","c":0},{"d":"2022-06-08","c":0},{"d":"2022-06-22","c":0},{"d":"2022-07-08","c":0},{"d":"2022-07-22","c":0},{"d":"2022-08-08","c":0},{"d":"2022-08-22","c":0},{"d":"2022-09-08","c":0},{"d":"2022-09-22","c":0},{"d":"2022-10-08","c":0},{"d":"2022-10-22","c":0},{"d":"2022-11-08","c":0},{"d":"2022-11-22","c":0},{"d":"2022-12-08","c":0},{"d":"2022-12-22","c":0}
 ]},
  "transform":[{"fold":["a","b","c"],"as":["k","v"]},{"filter":"isValid(datum.v)"}],
  "mark":{"type":"point","shape":"M-1,0L1,0M0,-1L0,1","filled":false,"size":72,"strokeWidth":2,"opacity":1},
  "encoding":{
   "x":{"field":"d","type":"temporal","scale":{"type":"utc","domain":[{"year":1995,"month":10,"date":8,"utc":true},{"year":2023,"month":7,"date":1,"utc":true}]},
     "axis":{"title":null,"values":[{"year":1997,"month":1,"date":1,"utc":true},{"year":1999,"month":1,"date":1,"utc":true},{"year":2001,"month":1,"date":1,"utc":true},{"year":2003,"month":1,"date":1,"utc":true},{"year":2005,"month":1,"date":1,"utc":true},{"year":2007,"month":1,"date":1,"utc":true},{"year":2009,"month":1,"date":1,"utc":true},{"year":2011,"month":1,"date":1,"utc":true},{"year":2013,"month":1,"date":1,"utc":true},{"year":2015,"month":1,"date":1,"utc":true},{"year":2017,"month":1,"date":1,"utc":true},{"year":2019,"month":1,"date":1,"utc":true},{"year":2021,"month":1,"date":1,"utc":true}],
      "labelExpr":"utcFormat(datum.value, '%d/%m/%Y')","labelFont":"Liberation Sans, Arial, sans-serif","labelFontSize":16,"labelColor":"#595959","ticks":false,"labelPadding":17,"labelOverlap":false,"labelFlush":false,"grid":true,"gridColor":"#d9d9d9","gridWidth":1.5,"domain":false}},
   "y":{"field":"v","type":"quantitative","scale":{"domain":[-100,250],"nice":false,"zero":false},
     "axis":{"title":null,"offset":-75,"values":[-100,-50,0,50,100,150,200,250],"labelExpr":"datum.value < 0 ? '- ' + abs(datum.value) + '%' : datum.value + '%'","labelFont":"Liberation Sans, Arial, sans-serif","labelFontSize":13.5,"labelColor":"#595959","ticks":false,"labelPadding":15,"grid":false,"domainColor":"#d9d9d9","domainWidth":1.5}},
   "color":{"field":"k","type":"nominal","scale":{"domain":["a","b","c"],"range":["#FFC000","#0070C0","#FF0000"]},
     "legend":{"orient":"none","legendX":1407,"legendY":142,"title":null,"labelExpr":"datum.label == 'a' ? 'Rendement_A04' : datum.label == 'b' ? 'Rendement_A07' : 'Rendement_A10'","symbolType":"M-1,0L1,0M0,-1L0,1","symbolSize":40,"symbolStrokeWidth":1.3,"labelFont":"Liberation Sans, Arial, sans-serif","labelFontSize":19,"labelFontWeight":"bold","labelColor":"#595959","labelOffset":17,"labelLimit":300,"rowPadding":29,"padding":14,"fillColor":"white"}},
   "order":{"field":"k"}
  }}
 ]}
]}
